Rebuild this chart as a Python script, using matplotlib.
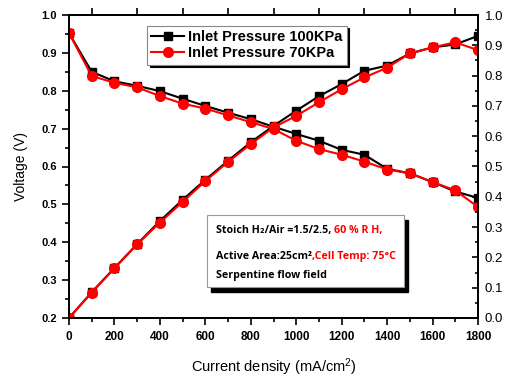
import matplotlib
matplotlib.use("Agg")
import matplotlib.pyplot as plt
from matplotlib.patches import Rectangle
from matplotlib.ticker import MultipleLocator, FixedLocator

current = [0, 100, 200, 300, 400, 500, 600, 700, 800, 900, 1000,
           1100, 1200, 1300, 1400, 1500, 1600, 1700, 1800]
volt_100 = [0.952, 0.850, 0.825, 0.813, 0.799, 0.779, 0.760, 0.742, 0.725, 0.705,
            0.686, 0.668, 0.644, 0.631, 0.594, 0.582, 0.559, 0.534, 0.517]
volt_70 = [0.952, 0.839, 0.821, 0.809, 0.786, 0.766, 0.753, 0.735, 0.717, 0.699,
           0.668, 0.646, 0.631, 0.613, 0.592, 0.582, 0.559, 0.537, 0.493]
power_100 = [0.0, 0.085, 0.165, 0.244, 0.320, 0.390, 0.456, 0.519, 0.580, 0.634,
             0.684, 0.732, 0.772, 0.816, 0.833, 0.873, 0.893, 0.903, 0.931]
power_70 = [0.0, 0.084, 0.164, 0.243, 0.315, 0.383, 0.452, 0.515, 0.574, 0.629,
            0.667, 0.712, 0.755, 0.794, 0.826, 0.873, 0.893, 0.910, 0.884]
series_labels = ["Inlet Pressure 100KPa", "Inlet Pressure 70KPa"]

plt.rcParams['font.family'] = ['Liberation Sans', 'DejaVu Sans']
plt.rcParams['mathtext.default'] = 'regular'

fig = plt.figure(figsize=(5.08, 3.81), dpi=100)
ax = fig.add_axes([69/508, 1-318/381, 409/508, 303/381])
ax2 = ax.twinx()

ms_sq = 5.5
ms_ci = 7
ax.plot(current, volt_100, '-s', color='black', lw=1.5, ms=ms_sq, mec='black', label=series_labels[0])
ax.plot(current, volt_70, '-o', color='red', lw=1.5, ms=ms_ci, mec='red', label=series_labels[1])
ax2.plot(current, power_100, '-s', color='black', lw=1.5, ms=ms_sq, mec='black')
ax2.plot(current, power_70, '-o', color='red', lw=1.5, ms=ms_ci, mec='red')

ax.set_xlim(0, 1800)
ax.set_ylim(0.2, 1.0)
ax2.set_ylim(0.0, 1.0)

ax.xaxis.set_major_locator(MultipleLocator(200))
ax.xaxis.set_minor_locator(MultipleLocator(100))
ax.yaxis.set_major_locator(MultipleLocator(0.1))
ax.yaxis.set_minor_locator(MultipleLocator(0.05))
ax2.yaxis.set_major_locator(MultipleLocator(0.1))
ax2.yaxis.set_minor_locator(MultipleLocator(0.05))

ax.xaxis.set_major_formatter(matplotlib.ticker.FuncFormatter(lambda v, p: f"{v:.0f}"))
ax.yaxis.set_major_formatter(matplotlib.ticker.FuncFormatter(lambda v, p: f"{v:.1f}"))
ax2.yaxis.set_major_formatter(matplotlib.ticker.FuncFormatter(lambda v, p: f"{v:.1f}"))

ax.tick_params(axis='both', which='major', direction='out', length=5, width=1.2)
ax.tick_params(axis='both', which='minor', direction='out', length=3, width=1.2)
ax.tick_params(axis='y', labelsize=8)
ax.tick_params(axis='x', labelsize=8.5, pad=4)
for lab in ax.get_xticklabels() + ax.get_yticklabels():
    lab.set_fontweight('bold')
ax2.tick_params(axis='y', which='major', direction='in', length=4, width=1.2, labelsize=9.5, pad=5)
ax2.tick_params(axis='y', which='minor', direction='in', length=2.5, width=1.2)

for a in (ax, ax2):
    for s in a.spines.values():
        s.set_linewidth(1.3)

secx = ax.secondary_xaxis('top')
secx.xaxis.set_major_locator(FixedLocator([100, 300, 500, 700, 900, 1100, 1300, 1500, 1700]))
secx.tick_params(axis='x', direction='out', length=5, width=1.2, labeltop=False)
secx.spines['top'].set_linewidth(1.3)

ax.set_ylabel("Voltage (V)", fontsize=10, labelpad=10)
ax.set_xlabel("Current density (mA/cm$^2$)", fontsize=10.5, labelpad=10)

# Legend
leg = ax.legend(loc='upper left', bbox_to_anchor=(0.191, 0.965), borderaxespad=0,
                fancybox=False, framealpha=1, edgecolor='#888888',
                prop={'weight': 'bold', 'size': 10.5}, handlelength=2.2,
                handletextpad=0.3, labelspacing=0.15, borderpad=0.3,
                shadow={'color': 'black', 'alpha': 1})
leg.get_frame().set_linewidth(0.8)
leg.set_zorder(10)

# Annotation box
x0 = (206.7 - 69) / 409
x1 = (404.3 - 69) / 409
y0 = (318 - 286.7) / 303
y1 = (318 - 215) / 303
shadow = Rectangle((x0 + 4/409, y0 - 5/303), x1 - x0, y1 - y0, transform=ax.transAxes,
                   facecolor='black', edgecolor='black', zorder=8)
box = Rectangle((x0, y0), x1 - x0, y1 - y0, transform=ax.transAxes,
                facecolor='white', edgecolor='#999999', lw=0.8, zorder=9)
ax.add_patch(shadow)
ax.add_patch(box)

fam = ['Open Sans', 'DejaVu Sans']
fs = 7.7
tx = (215.7 - 69) / 409
def line(parts, y):
    prev = None
    for txt, col in parts:
        if prev is None:
            prev = ax.annotate(txt, xy=(tx, y), xycoords='axes fraction', fontsize=fs,
                               fontweight='bold', color=col, family=fam, zorder=11,
                               va='baseline', ha='left')
        else:
            prev = ax.annotate(txt, xy=(1, 0), xycoords=prev, fontsize=fs,
                               fontweight='bold', color=col, family=fam, zorder=11,
                               va='bottom', ha='left')
    return prev

line([("Stoich H\u2082/Air =1.5/2.5, ", 'black'), ("60 % R H,", 'red')], (318 - 232.7) / 303)
line([("Active Area:25cm\u00b2", 'black'), (",Cell Temp: 75\u00b0C", 'red')], (318 - 259) / 303)
line([("Serpentine flow field", 'black')], (318 - 277.7) / 303)

fig.savefig("out.png", dpi=100)
